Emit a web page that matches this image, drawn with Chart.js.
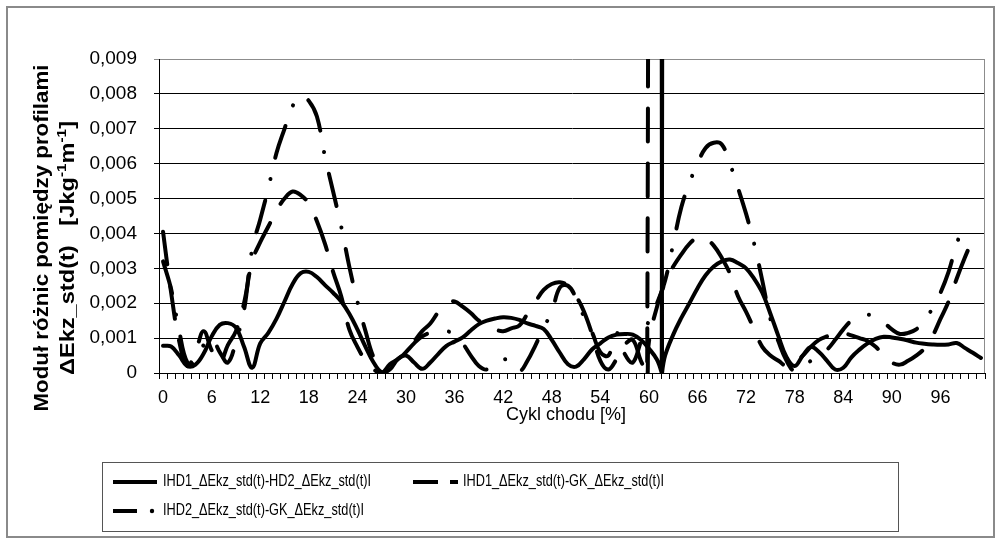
<!DOCTYPE html>
<html>
<head>
<meta charset="utf-8">
<script src="https://cdn.jsdelivr.net/npm/chart.js@4.4.0/dist/chart.umd.min.js"></script>
<style>
  html, body { margin: 0; padding: 0; background: #fff; }
  #wrap { width: 1001px; height: 544px; position: relative; }
</style>
</head>
<body>
<div id="wrap"><canvas id="chart" width="1001" height="544"></canvas></div>
<script>
// kategorie osi X (cykl chodu, %)
const cycle = [
  0, 1, 2, 3, 4, 5, 6, 7, 8, 9, 10, 11, 12, 13, 14, 15, 16, 17, 18, 19,
  20, 21, 22, 23, 24, 25, 26, 27, 28, 29, 30, 31, 32, 33, 34, 35, 36, 37, 38, 39,
  40, 41, 42, 43, 44, 45, 46, 47, 48, 49, 50, 51, 52, 53, 54, 55, 56, 57, 58, 59,
  60, 61, 62, 63, 64, 65, 66, 67, 68, 69, 70, 71, 72, 73, 74, 75, 76, 77, 78, 79,
  80, 81, 82, 83, 84, 85, 86, 87, 88, 89, 90, 91, 92, 93, 94, 95, 96, 97, 98, 99,
  100, 101
];

// |HD1 - HD2|
const hd1Hd2 = [
  0.00078, 0.00076, 0.0005, 0.0002, 0.00024, 0.00055, 0.00105, 0.00138, 0.00143, 0.0013,
  0.00075, 0.00015, 0.00085, 0.00115, 0.00155, 0.00205, 0.00255, 0.00286, 0.0029, 0.00275,
  0.00252, 0.0023, 0.00205, 0.0017, 0.00125, 0.00075, 0.0003, 0.00002, 0.0001, 0.0004,
  0.0005, 0.0003, 0.00012, 0.0003, 0.00055, 0.00078, 0.0009, 0.00102, 0.00122, 0.0014,
  0.0015, 0.00156, 0.0016, 0.00158, 0.00152, 0.00142, 0.00135, 0.00126, 0.00095, 0.00058,
  0.00025, 0.00018, 0.0004, 0.00068, 0.00085, 0.00102, 0.0011, 0.00112, 0.0011, 0.00095,
  0.0007, 0.00038, 0.0005, 0.0011, 0.00158, 0.002, 0.00243, 0.0028, 0.00305, 0.0032,
  0.00325, 0.00315, 0.003, 0.0027, 0.0023, 0.0017, 0.00105, 0.00045, 0.0002, 0.0005,
  0.00075, 0.0006, 0.00035, 0.0001, 0.00015, 0.00045, 0.00067, 0.00085, 0.00098, 0.00104,
  0.00102, 0.00098, 0.00093, 0.00087, 0.00084, 0.00082, 0.00081, 0.00082, 0.00086, 0.00072,
  0.00058, 0.00043
];
// skok (wartość poza skalą) – [x, y]
const hd1Hd2Spike = [[61.58, 0], [61.6, 0.05], [61.62, 0]];

// |HD1 - GK|
const hd1Gk = [
  0.00405, 0.0023, 0.0009, 0.0002, 0.0006, 0.0012, 0.00065, 0.0003, 0.0008, 0.0012,
  0.002, 0.0032, 0.00375, 0.0042, 0.00465, 0.005, 0.0052, 0.0051, 0.00485, 0.00435,
  0.0037, 0.0029, 0.0022, 0.00125, 0.00075, 0.00035, 0.0001, 0.0, 0.00025, 0.0004,
  0.0006, 0.0009, 0.0012, 0.00142, 0.00175, 0.002, 0.00205, 0.0019, 0.00172, 0.0015,
  0.00136, 0.00125, 0.0012, 0.00128, 0.00136, 0.0017, 0.00205, 0.00238, 0.00255, 0.0026,
  0.0025, 0.0022, 0.00175, 0.0011, 0.00035, 0.0001, 0.0004, 0.0008, 0.00095, 0.00035,
  0.0009, 0.0019, 0.0026, 0.00305, 0.0034, 0.0037, 0.00388, 0.00385, 0.00365, 0.0033,
  0.00285, 0.0022, 0.00175, 0.00125, 0.00075, 0.0005, 0.00035, 0.0002, 0.0003, 0.0005,
  0.00075, 0.00095, 0.00105, 0.00112, 0.00114, 0.00108, 0.001, 0.00092, 0.00075, 0.0005,
  0.0003, 0.00024, 0.00035, 0.0005, 0.0007, 0.00105, 0.00155, 0.00205, 0.0027, 0.0033,
  0.00385, null
];
// skok: linia wychodzi poza skalę i wraca od dołu
const hd1GkSpike = [[59.78, 0], [59.8, 0.05], [59.81, null], [59.85, 0]];

// |HD2 - GK|
const hd2Gk = [
  0.0032, 0.0024, 0.0012, 0.0003, 0.0003, 0.0008, 0.001, 0.0006, 0.0003, 0.0009,
  0.0018, 0.00355, 0.0044, 0.0053, 0.0063, 0.007, 0.00765, 0.00795, 0.0078, 0.00735,
  0.0062, 0.0052, 0.0042, 0.00305, 0.00205, 0.0012, 0.00045, 0.0001, 0.0001, 0.00035,
  0.0006, 0.00085, 0.00105, 0.00115, 0.00118, 0.0012, 0.0011, 0.00085, 0.0005, 0.0002,
  0.0001, 0.0003, 0.0004, 0.0003, 0.00005, 0.00035, 0.0008, 0.0013, 0.00175, 0.00245,
  0.0025, 0.00215, 0.0016, 0.00115, 0.0006, 0.0005, 0.00115, 0.00055, 0.0003, 0.0009,
  0.0015, 0.002, 0.00265, 0.0037, 0.00475, 0.00545, 0.006, 0.00645, 0.0066, 0.00655,
  0.006, 0.0053, 0.00456, 0.0037, 0.00265, 0.00155, 0.0009, 0.00035, 0.00005, 0.0002,
  0.00035, 0.0005, 0.00067, 0.00095, 0.00125, 0.0015, 0.00162, 0.00167, 0.0016, 0.00145,
  0.00125, 0.00112, 0.00115, 0.00125, 0.0015, 0.00185, 0.0023, 0.0029, 0.0037, 0.0043,
  null, null
];

const seriesNames = [
  'IHD1_\u0394Ekz_std(t)-HD2_\u0394Ekz_std(t)I',
  'IHD1_\u0394Ekz_std(t)-GK_\u0394Ekz_std(t)I',
  'IHD2_\u0394Ekz_std(t)-GK_\u0394Ekz_std(t)I'
];
const yTickLabels = ['0','0,001','0,002','0,003','0,004','0,005','0,006','0,007','0,008','0,009'];

const FONT = "'Liberation Sans', Arial, sans-serif";

// punkty {x, y} dla osi liczbowej, z ewentualnym skokiem
function toPoints(values, spike) {
  const pts = cycle.map((c, i) => ({ x: c, y: values[i] }));
  (spike || []).forEach(([x, y]) => pts.push({ x, y }));
  pts.sort((a, b) => a.x - b.x);
  return pts;
}

// rysuje tytuły, legendę i ramki (Excelowy wygląd)
const excelFrame = {
  id: 'excelFrame',
  afterDraw(chart) {
    const ctx = chart.ctx;
    const a = chart.chartArea;
    ctx.save();

    // prawa krawędź obszaru wykresu
    ctx.strokeStyle = '#8c8c8c';
    ctx.lineWidth = 1;
    ctx.beginPath();
    ctx.moveTo(Math.round(a.right) - 0.5, a.top);
    ctx.lineTo(Math.round(a.right) - 0.5, a.bottom);
    ctx.stroke();

    // zewnętrzna ramka
    ctx.strokeStyle = '#8a8a8a';
    ctx.lineWidth = 2;
    ctx.strokeRect(7, 7, 987, 530);

    // tytuł osi X
    ctx.fillStyle = '#000';
    ctx.font = '18px ' + FONT;
    ctx.textAlign = 'center';
    ctx.textBaseline = 'middle';
    ctx.fillText('Cykl chodu [%]', 566, 415);

    // tytuł osi Y (dwie linie, pogrubione)
    drawVertical(ctx, [{t: 'Modu\u0142 r\u00f3\u017cnic pomi\u0119dzy profilami'}], 42, 238, 347);
    drawVertical(ctx, [
      {t: '\u0394Ekz_std(t)   [Jkg'}, {t: '-1', sup: true}, {t: 'm'}, {t: '-1', sup: true}, {t: ']'}
    ], 68, 248, 254);

    // legenda
    ctx.strokeStyle = '#555';
    ctx.lineWidth = 1;
    ctx.strokeRect(102.5, 462.5, 796, 69);

    ctx.strokeStyle = '#000';
    ctx.lineWidth = 4;
    ctx.lineCap = 'butt';
    ctx.beginPath();
    ctx.moveTo(113, 482); ctx.lineTo(157, 482);
    ctx.moveTo(413, 482); ctx.lineTo(438, 482);
    ctx.moveTo(450, 482); ctx.lineTo(458, 482);
    ctx.moveTo(113, 511); ctx.lineTo(137, 511);
    ctx.stroke();
    ctx.beginPath();
    ctx.arc(152, 511, 2.2, 0, Math.PI * 2);
    ctx.fillStyle = '#000';
    ctx.fill();

    ctx.font = '16px ' + FONT;
    ctx.textAlign = 'left';
    ctx.textBaseline = 'middle';
    const sx = 208 / ctx.measureText(seriesNames[0]).width;
    [[seriesNames[0], 163, 482], [seriesNames[1], 463, 482], [seriesNames[2], 163, 511]].forEach(([txt, x, y]) => {
      ctx.save();
      ctx.translate(x, y);
      ctx.scale(sx, 1);
      ctx.fillText(txt, 0, 0);
      ctx.restore();
    });

    ctx.restore();
  }
};

function drawVertical(ctx, parts, cx, cy, targetLen) {
  const base = 'bold 20px ' + FONT;
  const small = 'bold 13px ' + FONT;
  let total = 0;
  parts.forEach(p => {
    ctx.font = p.sup ? small : base;
    p.w = ctx.measureText(p.t).width;
    total += p.w;
  });
  ctx.save();
  ctx.translate(cx, cy);
  ctx.rotate(-Math.PI / 2);
  ctx.scale(targetLen / total, 1);
  ctx.textAlign = 'left';
  ctx.textBaseline = 'middle';
  ctx.fillStyle = '#000';
  let x = -total / 2;
  parts.forEach(p => {
    ctx.font = p.sup ? small : base;
    ctx.fillText(p.t, x, p.sup ? -6 : 0);
    x += p.w;
  });
  ctx.restore();
}

const ctx = document.getElementById('chart').getContext('2d');
const chart = new Chart(ctx, {
  type: 'line',
  data: {
    datasets: [
      {
        label: seriesNames[0],
        data: toPoints(hd1Hd2, hd1Hd2Spike),
        borderColor: '#000',
        borderWidth: 4,
        borderCapStyle: 'round',
        borderJoinStyle: 'round'
      },
      {
        label: seriesNames[1],
        data: toPoints(hd1Gk, hd1GkSpike),
        borderColor: '#000',
        borderWidth: 4,
        borderDash: [33, 22],
        borderCapStyle: 'round',
        borderJoinStyle: 'round'
      },
      {
        label: seriesNames[2],
        data: toPoints(hd2Gk),
        borderColor: '#000',
        borderWidth: 4,
        borderDash: [33, 22, 0.1, 22],
        borderCapStyle: 'round',
        borderJoinStyle: 'round'
      }
    ]
  },
  options: {
    responsive: false,
    animation: false,
    devicePixelRatio: 1,
    layout: { padding: { top: 59, right: 16, left: 0, bottom: 0 } },
    elements: {
      point: { radius: 0, hoverRadius: 0 },
      line: { tension: 0.4, fill: false }
    },
    plugins: {
      legend: { display: false },
      tooltip: { enabled: false },
      title: { display: false }
    },
    scales: {
      x: {
        type: 'linear',
        min: -0.5,
        max: 101.5,
        afterBuildTicks: s => { s.ticks = cycle.map(v => ({ value: v })); },
        afterFit: s => { s.height = 171; },
        border: { display: true, color: '#000', width: 1 },
        grid: {
          offset: true,
          drawOnChartArea: false,
          drawTicks: true,
          tickLength: 6,
          color: '#000'
        },
        ticks: {
          autoSkip: false,
          maxRotation: 0,
          minRotation: 0,
          padding: 8,
          color: '#000',
          font: { family: FONT, size: 18 },
          callback: val => (val % 6 === 0 ? String(val) : '')
        }
      },
      y: {
        min: 0,
        max: 0.009,
        afterFit: s => { s.width = 159; },
        border: { display: true, color: '#000', width: 1 },
        grid: {
          color: c => (c.tick && Math.abs(c.tick.value - 0.009) < 1e-9 ? '#8c8c8c' : '#000'),
          lineWidth: 1,
          drawTicks: true,
          tickLength: 5
        },
        ticks: {
          stepSize: 0.001,
          padding: 17,
          color: '#000',
          font: { family: FONT, size: 19 },
          callback: (val, idx) => yTickLabels[idx]
        }
      }
    }
  },
  plugins: [excelFrame]
});
</script>
</body>
</html>
